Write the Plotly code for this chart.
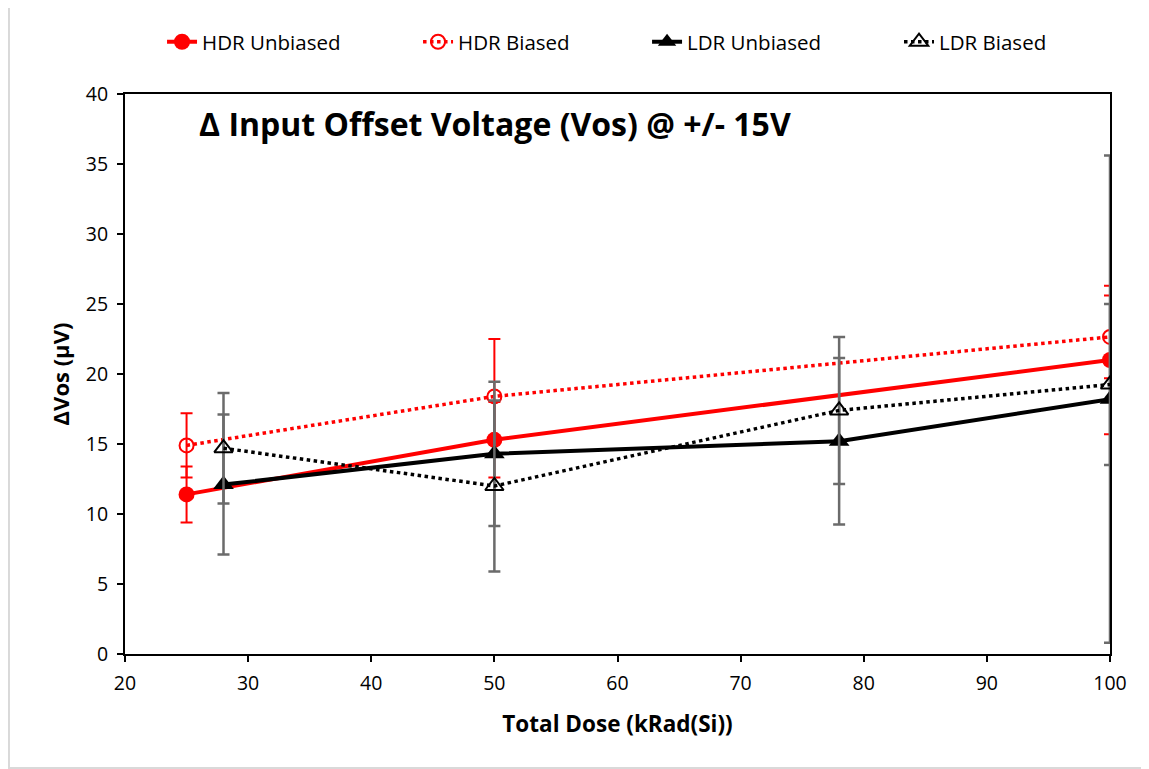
import plotly.graph_objects as go

# ---- data ----
hdr_x = [25, 50, 100]
hdr_unbiased = [11.4, 15.3, 21.0]
hdr_unbiased_err = [2.0, 2.7, 5.3]
hdr_biased = [14.9, 18.4, 22.65]
hdr_biased_err = [2.3, 4.1, 2.95]

ldr_x = [28, 50, 78, 100]
ldr_unbiased = [12.1, 14.3, 15.2, 18.2]
ldr_unbiased_err = [5.0, 5.15, 5.95, 17.4]
ldr_biased = [14.7, 12.0, 17.4, 19.25]
ldr_biased_err = [3.95, 6.1, 5.25, 5.75]

x_ticks = [20, 30, 40, 50, 60, 70, 80, 90, 100]
y_ticks = [0, 5, 10, 15, 20, 25, 30, 35, 40]

title_text = "Δ Input Offset Voltage (Vos) @ +/- 15V"
x_title = "Total Dose (kRad(Si))"
y_title = "ΔVos (µV)"

FONT = "'Open Sans', sans-serif"
RED = "#ff0000"
GRAY = "#6b6b6b"

fig = go.Figure()

fig.add_trace(go.Scatter(
    x=hdr_x, y=hdr_unbiased, name="HDR Unbiased", mode="lines+markers", legend="legend",
    line=dict(color=RED, width=4),
    marker=dict(symbol="circle", size=16, color=RED),
    error_y=dict(type="data", array=hdr_unbiased_err, color=RED, thickness=2, width=6),
))
fig.add_trace(go.Scatter(
    x=hdr_x, y=hdr_biased, name="HDR Biased", mode="lines+markers", legend="legend2",
    line=dict(color=RED, width=3.5, dash="dot"),
    marker=dict(symbol="circle-open", size=14, color=RED, line=dict(width=2)),
    error_y=dict(type="data", array=hdr_biased_err, color=RED, thickness=2, width=6),
))
fig.add_trace(go.Scatter(
    x=ldr_x, y=ldr_unbiased, name="LDR Unbiased", mode="lines+markers", legend="legend3",
    line=dict(color="black", width=4),
    marker=dict(symbol="triangle-up", size=18, color="black"),
    error_y=dict(type="data", array=ldr_unbiased_err, color=GRAY, thickness=2.5, width=6),
))
fig.add_trace(go.Scatter(
    x=ldr_x, y=ldr_biased, name="LDR Biased", mode="lines+markers", legend="legend4",
    line=dict(color="black", width=3.5, dash="dot"),
    marker=dict(symbol="triangle-up-open", size=16, color="black", line=dict(width=2)),
    error_y=dict(type="data", array=ldr_biased_err, color=GRAY, thickness=2.5, width=6),
))

def leg(x):
    return dict(orientation="h", x=x, xanchor="left", y=1.093, yanchor="middle",
                font=dict(size=20.5, family=FONT), bgcolor="rgba(0,0,0,0)")

fig.update_layout(
    width=1141, height=761,
    margin=dict(l=117, r=39, t=86, b=115),
    paper_bgcolor="white", plot_bgcolor="white",
    font=dict(family=FONT, size=19.5, color="black"),
    showlegend=True,
    legend=leg(0.0376), legend2=leg(0.2975), legend3=leg(0.530), legend4=leg(0.7858),
    xaxis=dict(range=[20, 100], tickvals=x_ticks, ticktext=[str(v) for v in x_ticks],
               showgrid=False, zeroline=False, showline=True, linecolor="black", linewidth=2,
               mirror=True, ticks="outside", ticklen=6, tickwidth=1.5, tickcolor="black",
               tickfont=dict(size=19.5), ticklabelstandoff=5,
               title=dict(text="<b>" + x_title + "</b>", font=dict(size=22.5), standoff=21)),
    yaxis=dict(range=[0, 40], tickvals=y_ticks, ticktext=[str(v) for v in y_ticks],
               showgrid=False, zeroline=False, showline=True, linecolor="black", linewidth=2,
               mirror=True, ticks="outside", ticklen=6, tickwidth=1.5, tickcolor="black",
               tickfont=dict(size=19.5), ticklabelstandoff=5,
               title=dict(text="<b>" + y_title + "</b>", font=dict(size=22), standoff=10)),
    annotations=[dict(text="<b>" + title_text + "</b>", xref="paper", yref="paper",
                      x=0.0731, y=0.948, xanchor="left", yanchor="middle", showarrow=False,
                      font=dict(size=32, family=FONT))],
    shapes=[dict(type="rect", xref="paper", yref="paper", x0=-0.1178, x1=1.0355,
                 y0=-0.2036, y1=1.2, line=dict(color="#d9d9d9", width=2), layer="below")],
)

fig.write_html("out.html")
